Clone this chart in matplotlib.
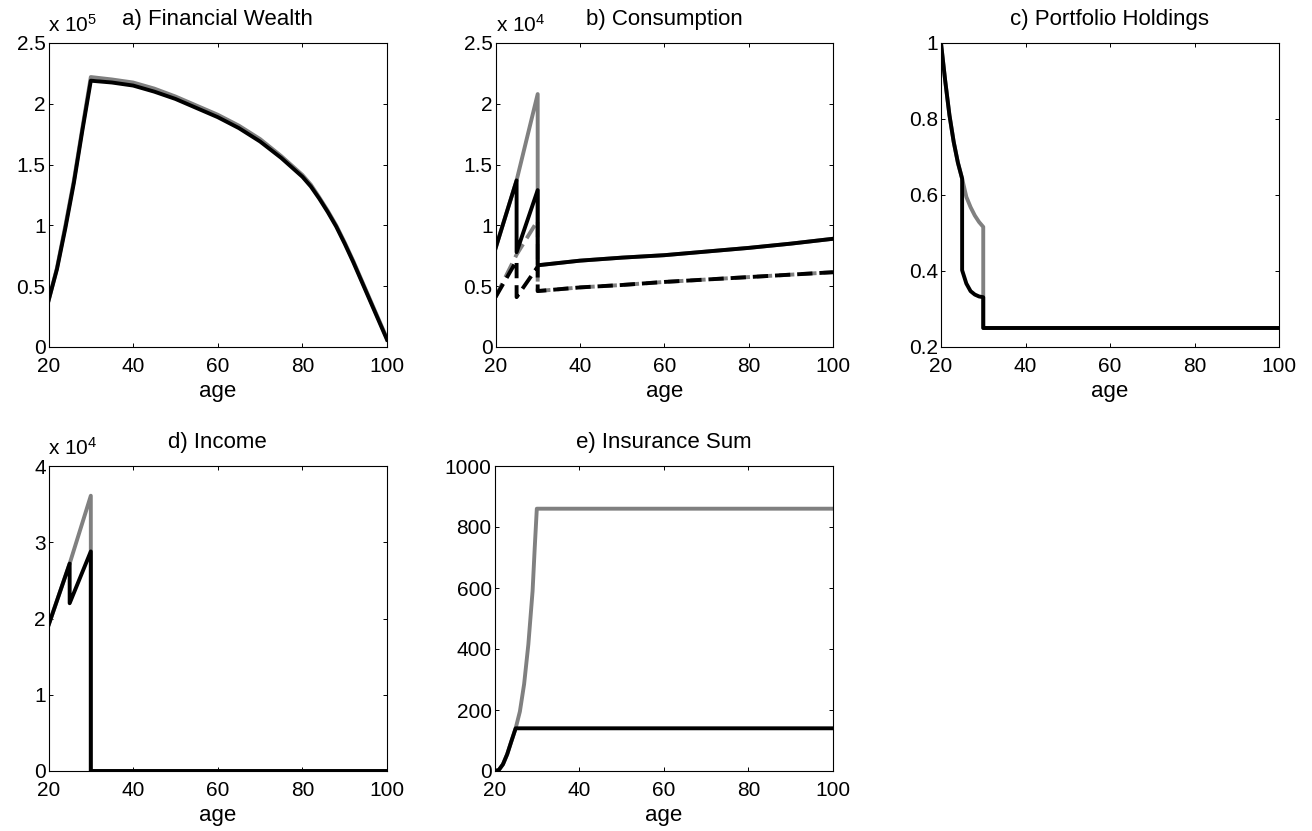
import numpy as np
import matplotlib
matplotlib.use('Agg')
import matplotlib.pyplot as plt
from matplotlib.ticker import FuncFormatter

plt.rcParams['font.family'] = ['Liberation Sans', 'DejaVu Sans']
plt.rcParams['mathtext.default'] = 'regular'
plt.rcParams['font.size'] = 15

# a) financial wealth (units of 1e5)
ages_a = [20, 22, 24, 26, 28, 30, 35, 40, 45, 50, 55, 60, 65, 70, 75, 80,
          82, 84, 86, 88, 90, 92, 94, 96, 98, 100]
wealth_black = [0.38, 0.64, 0.98, 1.35, 1.78, 2.19, 2.175, 2.15, 2.10, 2.04, 1.965, 1.89, 1.80, 1.69, 1.555, 1.40,
                1.32, 1.22, 1.11, 0.99, 0.85, 0.70, 0.54, 0.38, 0.22, 0.06]
wealth_gray = [0.38, 0.65, 1.00, 1.37, 1.80, 2.22, 2.20, 2.175, 2.125, 2.06, 1.985, 1.91, 1.82, 1.71, 1.57, 1.415,
               1.335, 1.23, 1.12, 1.00, 0.86, 0.71, 0.55, 0.39, 0.23, 0.07]

# b) consumption (units of 1e4)
ages_b = [20, 25, 25, 30, 30, 40, 50, 60, 70, 80, 90, 100]
cons_black = [0.81, 1.37, 0.78, 1.29, 0.672, 0.71, 0.735, 0.755, 0.785, 0.815, 0.85, 0.89]
cons_gray = [0.81, 1.37, 1.37, 2.08, 0.672, 0.71, 0.735, 0.755, 0.785, 0.815, 0.85, 0.89]
cons_black_d = [0.41, 0.71, 0.41, 0.66, 0.46, 0.49, 0.51, 0.535, 0.555, 0.575, 0.595, 0.615]
cons_gray_d = [0.41, 0.76, 0.76, 1.04, 0.46, 0.49, 0.51, 0.535, 0.555, 0.575, 0.595, 0.615]

# c) portfolio holdings
ages_c = [20, 21, 22, 23, 24, 25, 25, 26, 27, 28, 29, 30, 30, 40, 60, 80, 100]
port_black = [1.0, 0.90, 0.81, 0.74, 0.685, 0.643, 0.402, 0.367, 0.347, 0.338, 0.333, 0.331, 0.25, 0.25, 0.25, 0.25, 0.25]
port_gray = [1.0, 0.90, 0.81, 0.74, 0.685, 0.643, 0.643, 0.595, 0.568, 0.546, 0.529, 0.516, 0.25, 0.25, 0.25, 0.25, 0.25]

# d) income (units of 1e4)
ages_d = [20, 25, 25, 30, 30, 40, 60, 80, 100]
inc_black = [1.91, 2.72, 2.2, 2.88, 0, 0, 0, 0, 0]
inc_gray = [1.91, 2.72, 2.72, 3.61, 0, 0, 0, 0, 0]

# e) insurance sum
ages_e = [20, 21, 22, 23, 24, 25, 26, 27, 28, 29, 29.5, 30, 40, 60, 80, 100]
ins_black = [0, 3, 22, 55, 98, 140, 140, 140, 140, 140, 140, 140, 140, 140, 140, 140]
ins_gray = [0, 3, 22, 55, 98, 140, 195, 285, 415, 590, 730, 860, 860, 860, 860, 860]

gray = '#808080'
lw = 2.8
dash = (0, (11 / lw, 5 / lw))

W, H = 1312, 831
fig = plt.figure(figsize=(W / 100, H / 100), dpi=100)

def make_ax(x0, x1, y0, y1):
    ax = fig.add_axes([x0 / W, 1 - y1 / H, (x1 - x0) / W, (y1 - y0) / H])
    for s in ax.spines.values():
        s.set_linewidth(0.8)
    ax.tick_params(direction='in', top=True, right=True, length=3, width=0.7, labelsize=15)
    ax.tick_params(axis='y', pad=2)
    ax.tick_params(axis='x', pad=7)
    ax.set_xlim(20, 100)
    ax.set_xticks([20, 40, 60, 80, 100])
    ax.set_xlabel('age', fontsize=16, labelpad=4)
    ax.yaxis.set_major_formatter(FuncFormatter(lambda v, p: '%g' % round(v, 4)))
    return ax

def exp_label(ax, e):
    ax.text(0, 1.025, 'x 10$^{%d}$' % e, transform=ax.transAxes, ha='left', va='bottom', fontsize=15)

ax = make_ax(48.5, 387, 43, 347)
ax.plot(ages_a, wealth_gray, color=gray, lw=lw)
ax.plot(ages_a, wealth_black, color='black', lw=lw)
ax.set_ylim(0, 2.5)
ax.set_yticks([0, 0.5, 1, 1.5, 2, 2.5])
ax.set_title('a) Financial Wealth', fontsize=16, pad=13)
exp_label(ax, 5)

ax = make_ax(495.5, 833, 43, 347)
ax.plot(ages_b, cons_gray, color=gray, lw=lw)
ax.plot(ages_b, cons_gray_d, color=gray, lw=lw, linestyle=dash)
ax.plot(ages_b, cons_black_d, color='black', lw=lw, linestyle=dash)
ax.plot(ages_b, cons_black, color='black', lw=lw)
ax.set_ylim(0, 2.5)
ax.set_yticks([0, 0.5, 1, 1.5, 2, 2.5])
ax.set_title('b) Consumption', fontsize=16, pad=13)
exp_label(ax, 4)

ax = make_ax(941, 1279, 43, 347)
ax.plot(ages_c, port_gray, color=gray, lw=lw)
ax.plot(ages_c, port_black, color='black', lw=lw)
ax.set_ylim(0.2, 1)
ax.set_yticks([0.2, 0.4, 0.6, 0.8, 1])
ax.set_title('c) Portfolio Holdings', fontsize=16, pad=13)

ax = make_ax(48.5, 387, 466, 771)
ax.plot(ages_d, inc_gray, color=gray, lw=lw)
ax.plot(ages_d, inc_black, color='black', lw=lw)
ax.set_ylim(0, 4)
ax.set_yticks([0, 1, 2, 3, 4])
ax.set_title('d) Income', fontsize=16, pad=13)
exp_label(ax, 4)

ax = make_ax(494.5, 833, 466, 771)
ax.plot(ages_e, ins_gray, color=gray, lw=lw)
ax.plot(ages_e, ins_black, color='black', lw=lw)
ax.set_ylim(0, 1000)
ax.set_yticks([0, 200, 400, 600, 800, 1000])
ax.set_title('e) Insurance Sum', fontsize=16, pad=13)

fig.savefig('out.png', dpi=100)
